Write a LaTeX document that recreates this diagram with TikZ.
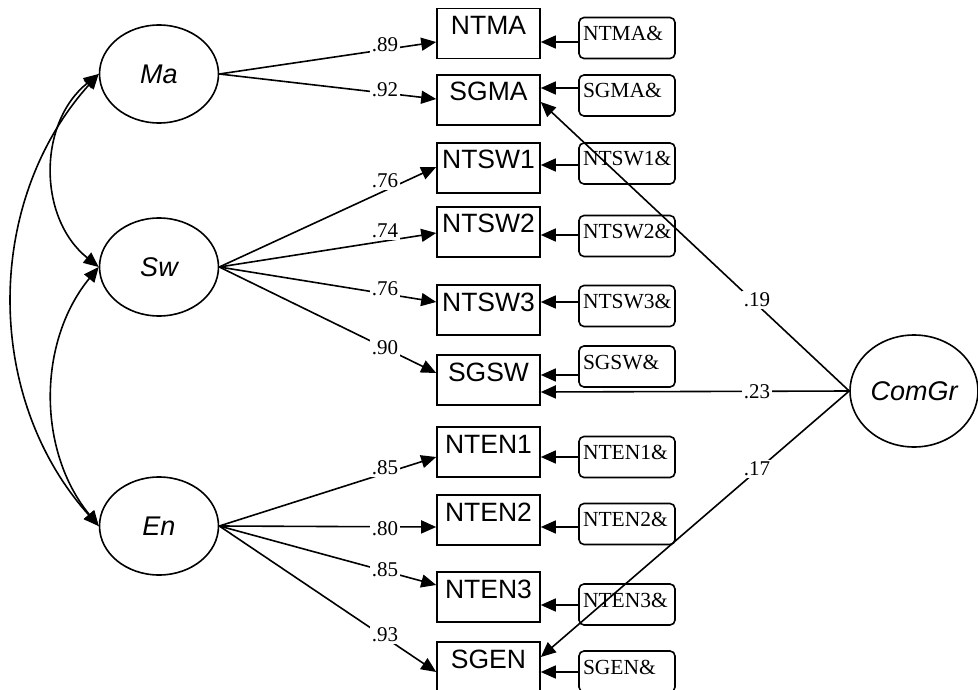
\documentclass[tikz,border=0pt]{standalone}
\usepackage{fontspec}
\setmainfont{Liberation Serif}
\newfontfamily\arialf{Liberation Sans}
\usetikzlibrary{shapes.geometric,arrows.meta,calc}
\begin{document}
\begin{tikzpicture}[x=1pt,y=-1pt,
 lat/.style={draw,ellipse,line width=1.6pt,minimum width=119pt,minimum height=98pt,inner sep=0pt,font=\arialf\itshape\fontsize{27}{27}\selectfont},
 obs/.style={draw,line width=1.6pt,minimum width=103pt,text height=26pt,text depth=24pt,inner sep=0pt,font=\arialf\fontsize{26.5}{26.5}\selectfont},
 err/.style={draw,rounded corners=5pt,line width=1.6pt,text width=88pt,align=left,inner xsep=4pt,inner ysep=0pt,text height=23pt,text depth=18pt,font=\fontsize{21.5}{21.5}\selectfont},
 arr/.style={line width=1.6pt,-{Triangle[length=15pt,width=13pt]}},
 cov/.style={line width=1.6pt,{Triangle[length=15pt,width=13pt]}-{Triangle[length=15pt,width=13pt]}},
 coef/.style={fill=white,inner sep=2pt,font=\fontsize{21}{21}\selectfont}]
\useasboundingbox (0,0) rectangle (978,690);
\fill[white] (0,0) rectangle (978,690);
% latent variables
\node[lat] (Ma) at (159,74) {Ma};
\node[lat] (Sw) at (159,267) {Sw};
\node[lat] (En) at (159,526) {En};
\node[lat,minimum width=128pt,minimum height=112pt] (Co) at (914,391) {ComGr};
% observed
\node[obs] (o1) at (488.5,33.5) {NTMA};
\node[obs] (o2) at (488.5,100) {SGMA};
\node[obs] (o3) at (488.5,168) {NTSW1};
\node[obs] (o4) at (488.5,232) {NTSW2};
\node[obs] (o5) at (488.5,310) {NTSW3};
\node[obs] (o6) at (488.5,380) {SGSW};
\node[obs] (o7) at (488.5,452) {NTEN1};
\node[obs] (o8) at (488.5,520) {NTEN2};
\node[obs] (o9) at (488.5,597) {NTEN3};
\node[obs] (o10) at (488.5,667) {SGEN};
% errors
\node[err] (e1) at (627,38) {NTMA\&};
\node[err] (e2) at (627,95.5) {SGMA\&};
\node[err] (e3) at (627,163.5) {NTSW1\&};
\node[err] (e4) at (627,236) {NTSW2\&};
\node[err] (e5) at (627,306) {NTSW3\&};
\node[err] (e6) at (627,366.5) {SGSW\&};
\node[err] (e7) at (627,457) {NTEN1\&};
\node[err] (e8) at (627,524) {NTEN2\&};
\node[err] (e9) at (627,604.5) {NTEN3\&};
\node[err] (e10) at (627,671.5) {SGEN\&};
% error arrows
\foreach \i/\d in {1/4,2/-7.5,3/1.5,4/-1,5/-4,6/8.5,7/0,8/3,9/0.5,10/0.5}{
  \coordinate (a\i) at ($(e\i.west)+(0,\d)$);
  \draw[arr] (a\i) -- (a\i -| o\i.east);
}
% loadings
\draw[arr] (Ma.east) -- ($(o1.west)+(0,8.5)$);
\draw[arr] (Ma.east) -- ($(o2.west)+(0,-1)$);
\draw[arr] (Sw.east) -- ($(o3.west)+(0,-1)$);
\draw[arr] (Sw.east) -- ($(o4.west)+(0,1)$);
\draw[arr] (Sw.east) -- ($(o5.west)+(0,-8)$);
\draw[arr] (Sw.east) -- ($(o6.west)+(0,-7)$);
\draw[arr] (En.east) -- ($(o7.west)+(0,5)$);
\draw[arr] (En.east) -- ($(o8.west)+(0,7)$);
\draw[arr] (En.east) -- ($(o9.west)+(0,-12)$);
\draw[arr] (En.east) -- ($(o10.west)+(0,5)$);
% ComGr paths
\draw[arr] (Co.west) -- ($(o2.east)+(0,2)$);
\draw[arr] (Co.west) -- ($(o6.east)+(0,12)$);
\draw[arr] (Co.west) -- ($(o10.east)+(0,-10)$);
% covariances
\draw[cov] (Ma.west) .. controls +(-61,49) and +(-61,-49) .. (Sw.west);
\draw[cov] (Ma.west) .. controls +(-115,128) and +(-115,-128) .. (En.west);
\draw[cov] (Sw.west) .. controls +(-61.5,75) and +(-61.5,-75) .. (En.west);
% coefficients
\node[coef] (c1) at (385,45) {.89};
\node[coef] (c2) at (385,90) {.92};
\node[coef] (c3) at (385,181) {.76};
\node[coef] (c4) at (385,231) {.74};
\node[coef] (c5) at (385,289) {.76};
\node[coef] (c6) at (385,348) {.90};
\node[coef] (c7) at (385,468) {.85};
\node[coef] (c8) at (385,529) {.80};
\node[coef] (c9) at (385,570) {.85};
\node[coef] (c10) at (385,635) {.93};
\node[coef] (c11) at (757,300) {.19};
\node[coef] (c12) at (757,392) {.23};
\node[coef] (c13) at (757,469) {.17};
\end{tikzpicture}
\end{document}
